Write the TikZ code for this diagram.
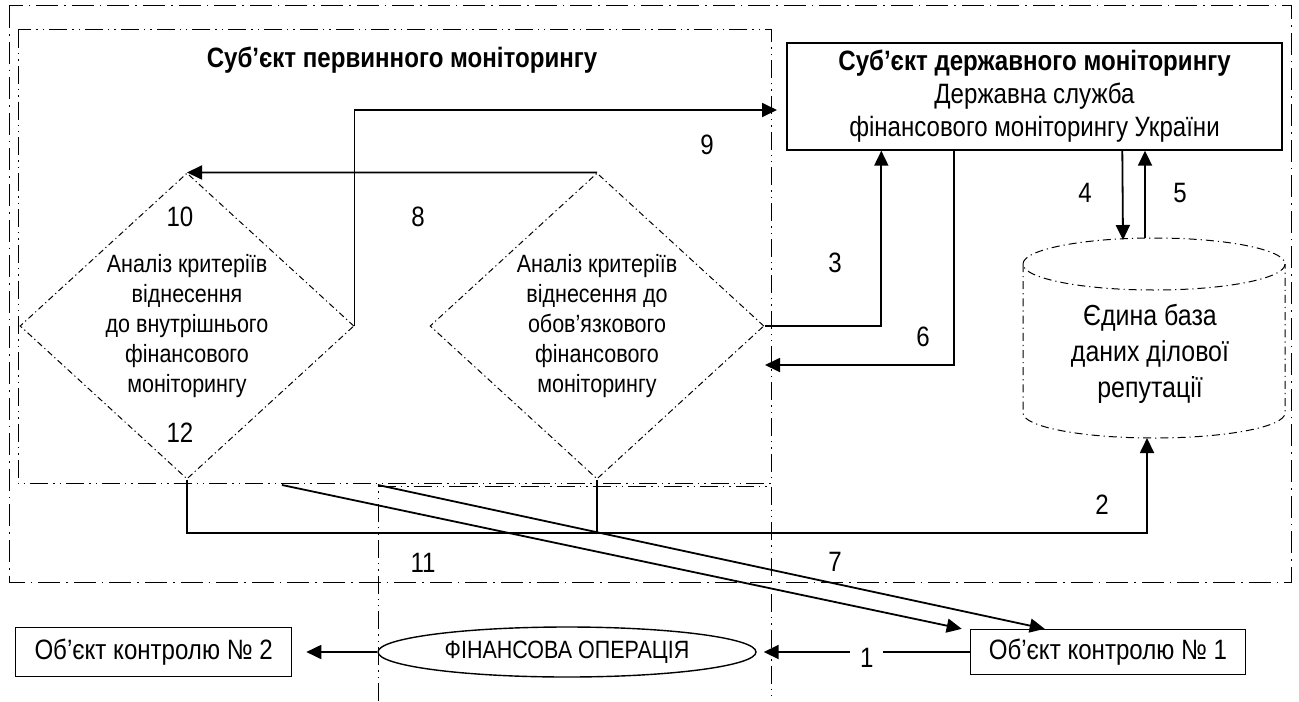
\documentclass[tikz,border=0pt]{standalone}
\usepackage{fontspec}
\setmainfont{Liberation Sans}[FakeStretch=0.86]
\usetikzlibrary{positioning,shapes.geometric,arrows.meta}

\begin{document}
\begin{tikzpicture}[x=0.5pt,y=-0.5pt,
		font=\fontsize{12.5}{15}\selectfont,
		frame/.style={line width=0.5pt,dash pattern=on 11pt off 3pt on 0.8pt off 3pt},
		subframe/.style={line width=0.5pt,dash pattern=on 9pt off 2.5pt on 0.7pt off 2.5pt on 0.7pt off 2.5pt},
		criteria/.style={diamond,draw,line width=0.5pt,dash pattern=on 3pt off 1.6pt on 0.6pt off 1.6pt,
			minimum width=167pt,minimum height=153pt,inner sep=0pt,align=center},
		dbase/.style={line width=0.5pt,dash pattern=on 4pt off 2pt on 0.6pt off 2pt},
		box/.style={draw,line width=0.7pt,inner sep=0pt,font=\fontsize{14}{16}\selectfont},
		num/.style={inner sep=1pt,font=\fontsize{14}{14}\selectfont},
		arr/.style={line width=0.9pt,-{Triangle[length=7.5pt,width=7pt]}},
		link/.style={line width=0.7pt}]
	\useasboundingbox (0,0) rectangle (1299,701);
	
	\draw[frame] (9,6) rectangle (1291,582);
	\draw[subframe] (18,30) rectangle (771,483);
	\draw[subframe] (378,701) -- (378,486) -- (771,486) -- (771,701);
	
	\node[font=\fontsize{14}{16}\selectfont\bfseries] (pmtitle) at (402,60) {Суб’єкт первинного моніторингу};
	\node[criteria] (inner) at (187,326) {Аналіз критеріїв\\віднесення\\до внутрішнього\\фінансового\\моніторингу};
	\node[criteria] (duty) [right=37.5pt of inner] {Аналіз критеріїв\\віднесення до\\обов’язкового\\фінансового\\моніторингу};
	\node[box,minimum width=247.5pt,minimum height=53.5pt,align=center,font=\fontsize{14}{16.5}\selectfont] (state) at (1034.5,96.5)
		{\textbf{Суб’єкт державного моніторингу}\\Державна служба\\фінансового моніторингу України};
	
	\draw[dbase] (1023,264) -- (1023,413) arc[start angle=180,end angle=0,x radius=131,y radius=25] -- (1285,264);
	\draw[dbase] (1154,264) ellipse[x radius=131,y radius=26];
	\node[align=center,font=\fontsize{14.5}{18}\selectfont] (db) at (1150,354) {Єдина база\\даних ділової\\репутації};
	\coordinate (db4) at (1123,240);
	\coordinate (db5) at (1145,238);
	\coordinate (db2) at (1147,438);
	
	\node[draw,ellipse,line width=0.7pt,minimum width=189pt,minimum height=25pt,inner sep=0pt] (op) at (567,652) {ФІНАНСОВА ОПЕРАЦІЯ};
	\node[box,minimum width=138pt,minimum height=24.5pt] (obj2) [left=42.5pt of op] {Об’єкт контролю № 2};
	\node[box,minimum width=137.5pt,minimum height=22.5pt] (obj1) [right=106.5pt of op] {Об’єкт контролю № 1};
	
	\coordinate (bus) at (1147,533);
	\coordinate (e9) at (777,110);
	\coordinate (e6) at (765,365);
	\coordinate (s11) at (282,485);
	\coordinate (s7) at (378,485);
	
	\draw[arr] (obj1.west) -- node[num,fill=white,inner xsep=5pt,yshift=-3pt] (n1) {1} ([xshift=3.5pt]op.east);
	\draw[arr] (op.west) -- ([xshift=7pt]obj2.east);
	\draw[arr] (inner.south) |- (bus) -- (db2);
	\draw[link] (duty.south) -- (duty.south |- bus);
	\draw[arr] (duty.east) -| ([xshift=47.5pt]state.south west);
	\draw[arr] ([xshift=168pt]state.south west) -- (db4);
	\draw[arr] (db5) -- (db5 |- state.south);
	\draw[arr] ([xshift=84pt]state.south west) |- (e6);
	\draw[arr] (s7) -- ([xshift=37.5pt]obj1.north west);
	\draw[arr] (duty.north) -- (inner.north);
	\draw[arr] (inner.east) |- (e9);
	\draw[arr] (s11) -- ([xshift=-4pt]obj1.north west);
	
	\node[num] (n2) at (1102,505) {2};
	\node[num] (n3) at (835,263) {3};
	\node[num] (n4) at (1085,193) {4};
	\node[num] (n5) at (1180,193) {5};
	\node[num] (n6) at (923,337) {6};
	\node[num] (n7) at (835,562) {7};
	\node[num] (n8) at (418,217) {8};
	\node[num] (n9) at (707,145) {9};
	\node[num] (n10) at (180,217) {10};
	\node[num] (n11) at (423,563) {11};
	\node[num] (n12) at (180,433) {12};
\end{tikzpicture}
\end{document}
